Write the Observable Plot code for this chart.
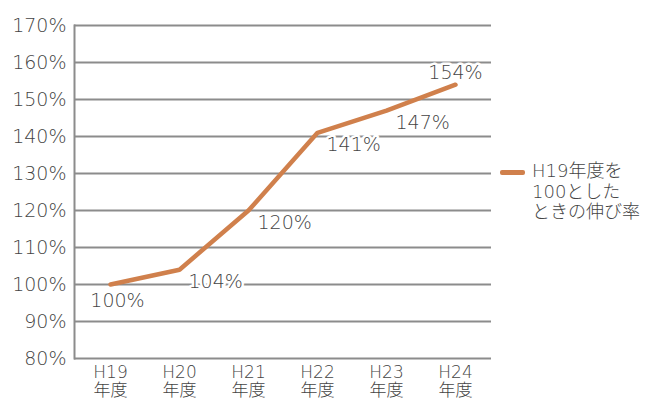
<!DOCTYPE html>
<html><head><meta charset="utf-8">
<script src="https://cdn.jsdelivr.net/npm/d3@7"></script>
<script src="https://cdn.jsdelivr.net/npm/@observablehq/plot@0.6"></script>
<style>
body{margin:0;background:#fff;}
#wrap{position:relative;width:645px;height:401px;font-family:"DejaVu Sans","Noto Sans CJK JP",sans-serif;}
#legend{position:absolute;left:500px;top:161px;display:flex;align-items:flex-start;white-space:nowrap;}
#legend .sw{width:25px;height:5px;border-radius:2px;margin-top:9px;margin-right:7px;}
#legend .tx{font-size:18px;line-height:20.5px;color:#444;font-weight:200;}
</style></head><body><div id="wrap"></div>
<script>
const years = ["H19","H20","H21","H22","H23","H24"];
const rates = [100,104,120,141,147,154];
const yTicks = [80,90,100,110,120,130,140,150,160,170];
const yearSuffix = "年度";
const legendLines = ["H19年度を","100とした","ときの伸び率"];
const lineColor = "#d0804c";

const data = years.map((y,i)=>({year:y, rate:rates[i], i}));
const font = '"DejaVu Sans","Noto Sans CJK JP",sans-serif';
const txt = {fontSize:19, fontWeight:200, fill:"#444"};

const chart = Plot.plot({
  width:645, height:401,
  marginLeft:74, marginRight:154, marginTop:25, marginBottom:43,
  style:{fontFamily:font, background:"#fff", color:"#444"},
  x:{type:"point", domain:years, padding:0.5, label:null},
  y:{domain:[80,170], label:null},
  marks:[
    Plot.gridY(yTicks, {stroke:"#8c8c8c", strokeOpacity:1, strokeWidth:2}),
    Plot.frame({anchor:"left", stroke:"#8c8c8c", strokeWidth:2}),
    Plot.axisY(yTicks, {tickSize:0, tickPadding:8, tickFormat:d=>d+"%", ...txt, label:null}),
    Plot.axisX(years, {tickSize:0, tickPadding:6, tickFormat:d=>d+"\n"+yearSuffix, fontSize:17, lineHeight:1.1, fontWeight:200, fill:"#444", label:null}),
    Plot.line(data, {x:"year", y:"rate", stroke:lineColor, strokeWidth:4.5, strokeLinejoin:"miter"}),
    Plot.text(data.filter(d=>d.i===0), {x:"year", y:"rate", text:d=>d.rate+"%", dx:7, dy:16, ...txt, stroke:"#fff", strokeWidth:5}),
    Plot.text(data.filter(d=>d.i>0 && d.i<years.length-1), {x:"year", y:"rate", text:d=>d.rate+"%", textAnchor:"start", dx:9, dy:12, ...txt, stroke:"#fff", strokeWidth:5}),
    Plot.text(data.filter(d=>d.i===years.length-1), {x:"year", y:"rate", text:d=>d.rate+"%", dy:-12, ...txt, stroke:"#fff", strokeWidth:5})
  ]
});
const wrap = document.getElementById("wrap");
wrap.appendChild(chart);
const lg = document.createElement("div");
lg.id = "legend";
lg.innerHTML = `<div class="sw" style="background:${lineColor}"></div><div class="tx">${legendLines.join("<br>")}</div>`;
wrap.appendChild(lg);
</script></body></html>
